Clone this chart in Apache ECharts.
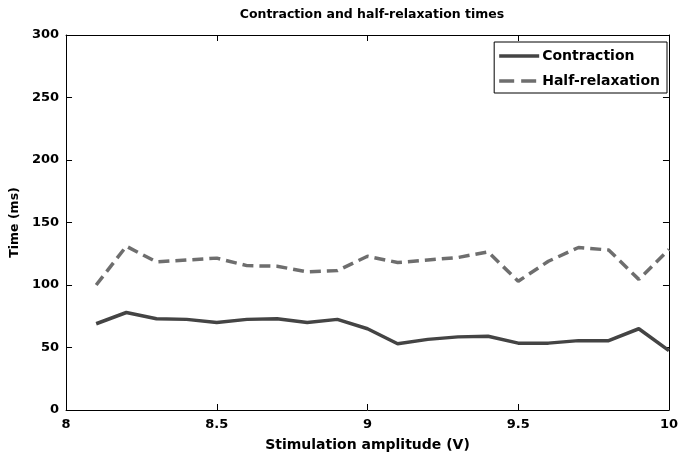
<!DOCTYPE html>
<html>
<head>
<meta charset="utf-8">
<script src="https://cdn.jsdelivr.net/npm/echarts@6/dist/echarts.min.js"></script>
<style>html,body{margin:0;padding:0;background:#fff}#c{width:681px;height:457px}</style>
</head>
<body>
<div id="c"></div>
<script>
const amplitudes = [8.1, 8.2, 8.3, 8.4, 8.5, 8.6, 8.7, 8.8, 8.9, 9.0, 9.1, 9.2, 9.3, 9.4, 9.5, 9.6, 9.7, 9.8, 9.9, 10.0];
const contraction = [69, 78, 73, 72.5, 70, 72.5, 73, 70, 72.5, 65, 53, 56.5, 58.5, 59, 53.5, 53.5, 55.5, 55.5, 65, 47.5];
const halfRelaxation = [100, 131, 118.5, 120, 121.5, 115.5, 115, 110.5, 111.5, 123, 118, 120, 122, 126.5, 103, 119, 130, 128, 104.5, 128.5];
const xTicks = [8, 8.5, 9, 9.5, 10];
const yTicks = [0, 50, 100, 150, 200, 250, 300];

const font = 'DejaVu Sans, Liberation Sans, sans-serif';
const chart = echarts.init(document.getElementById('c'), null, {renderer: 'canvas'});
const pair = (xs, ys) => xs.map((x, i) => [x, ys[i]]);
const axisCommon = {
  axisLine: {show: true, onZero: false, lineStyle: {color: '#000', width: 1}},
  axisTick: {show: true, inside: true, length: 6, lineStyle: {color: '#000'}},
  splitLine: {show: false}
};
chart.setOption({
  animation: false,
  backgroundColor: '#fff',
  title: {
    text: 'Contraction and half-relaxation times',
    left: 367, top: 3, textAlign: 'center',
    textStyle: {fontFamily: font, fontSize: 12.5, fontWeight: 'bold', color: '#000'}
  },
  legend: {
    right: 14, top: 42, orient: 'vertical',
    itemWidth: 40, itemHeight: 3.5, itemGap: 11,
    padding: [7, 7, 5, 5],
    borderColor: '#000', borderWidth: 1, backgroundColor: '#fff',
    textStyle: {fontFamily: font, fontSize: 14, fontWeight: 'bold', color: '#000', padding: [0, 0, 0, -2]},
    data: [
      {name: 'Contraction', icon: 'path://M0,0H40V3.5H0Z'},
      {name: 'Half-relaxation', icon: 'path://M0,0H15V3.5H0Z M22,0H37V3.5H22Z M39.99,0H40V3.5H39.99Z'}
    ]
  },
  grid: {left: 62, right: 9, top: 35, bottom: 45},
  xAxis: [
    Object.assign({
      type: 'value', min: xTicks[0], max: xTicks[xTicks.length - 1], interval: 0.5,
      name: 'Stimulation amplitude (V)', nameLocation: 'middle', nameGap: 28,
      nameTextStyle: {fontFamily: font, fontSize: 14, fontWeight: 'bold', color: '#000'},
      axisLabel: {fontFamily: font, fontSize: 13, fontWeight: 'bold', color: '#000', margin: 8, formatter: v => String(v)}
    }, axisCommon),
    Object.assign({
      type: 'value', position: 'top', min: xTicks[0], max: xTicks[xTicks.length - 1], interval: 0.5,
      axisLabel: {show: false}
    }, axisCommon)
  ],
  yAxis: [
    Object.assign({
      type: 'value', min: yTicks[0], max: yTicks[yTicks.length - 1], interval: 50,
      name: 'Time (ms)', nameLocation: 'middle', nameGap: 43,
      nameTextStyle: {fontFamily: font, fontSize: 12.5, fontWeight: 'bold', color: '#000'},
      axisLabel: {fontFamily: font, fontSize: 13, fontWeight: 'bold', color: '#000', margin: 7}
    }, axisCommon),
    Object.assign({
      type: 'value', position: 'right', min: yTicks[0], max: yTicks[yTicks.length - 1], interval: 50,
      axisLabel: {show: false}
    }, axisCommon)
  ],
  series: [
    {
      name: 'Contraction', type: 'line', symbol: 'none', xAxisIndex: 0, yAxisIndex: 0,
      data: pair(amplitudes, contraction),
      lineStyle: {color: '#444', width: 3.5},
      itemStyle: {color: '#444'}
    },
    {
      name: 'Half-relaxation', type: 'line', symbol: 'none', xAxisIndex: 0, yAxisIndex: 0,
      data: pair(amplitudes, halfRelaxation),
      lineStyle: {color: '#6e6e6e', width: 3.5, type: [11, 6]},
      itemStyle: {color: '#6e6e6e'}
    }
  ]
});
</script>
</body>
</html>
